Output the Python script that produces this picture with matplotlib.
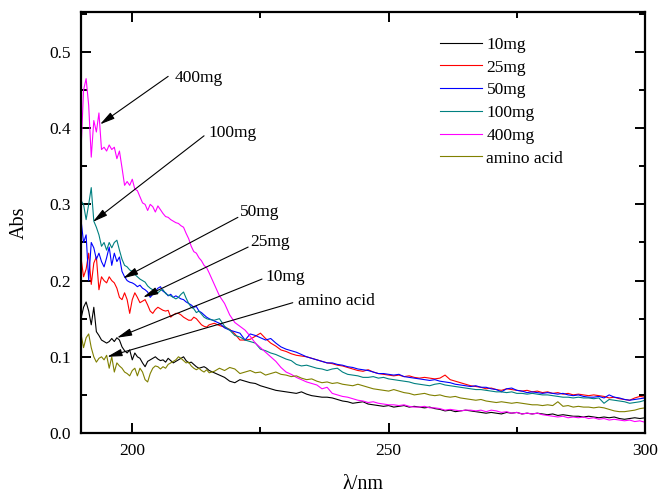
import numpy as np
import matplotlib
matplotlib.use('Agg')
import matplotlib.pyplot as plt
from matplotlib.ticker import MultipleLocator

plt.rcParams['font.family'] = ['Liberation Serif', 'DejaVu Serif']

# wavelength grid: 0.5 nm steps up to 215 nm, 1 nm steps after
wl = np.concatenate([np.arange(190, 215, 0.5), np.arange(215, 301, 1.0)])

abs_10mg = [
    0.150, 0.165, 0.172, 0.160, 0.142, 0.165, 0.133, 0.128, 0.122, 0.120,
    0.118, 0.120, 0.124, 0.120, 0.125, 0.122, 0.113, 0.108, 0.105, 0.109,
    0.096, 0.105, 0.100, 0.098, 0.092, 0.087, 0.094, 0.096, 0.098, 0.100,
    0.097, 0.095, 0.096, 0.093, 0.098, 0.095, 0.092, 0.094, 0.096, 0.098,
    0.100, 0.095, 0.092, 0.093, 0.090, 0.087, 0.085, 0.086, 0.087, 0.085,
    0.082, 0.079, 0.076, 0.073, 0.068, 0.066, 0.070, 0.068, 0.066, 0.065,
    0.062, 0.060, 0.058, 0.056, 0.055, 0.054, 0.053, 0.052, 0.054, 0.051,
    0.049, 0.048, 0.047, 0.047, 0.046, 0.044, 0.042, 0.041, 0.039, 0.040,
    0.041, 0.038, 0.037, 0.036, 0.035, 0.036, 0.034, 0.035, 0.036, 0.034,
    0.035, 0.034, 0.033, 0.034, 0.032, 0.031, 0.029, 0.030, 0.028, 0.029,
    0.030, 0.029, 0.028, 0.027, 0.026, 0.027, 0.026, 0.025, 0.027, 0.026,
    0.027, 0.025, 0.026, 0.025, 0.026, 0.025, 0.024, 0.025, 0.023, 0.024,
    0.023, 0.022, 0.022, 0.021, 0.022, 0.021, 0.020, 0.021, 0.020, 0.021,
    0.019, 0.018, 0.019, 0.020, 0.019, 0.020]

abs_25mg = [
    0.230, 0.205, 0.215, 0.236, 0.195, 0.223, 0.231, 0.188, 0.205, 0.200,
    0.197, 0.205, 0.200, 0.197, 0.190, 0.178, 0.175, 0.184, 0.175, 0.157,
    0.175, 0.184, 0.178, 0.171, 0.173, 0.175, 0.168, 0.160, 0.157, 0.162,
    0.165, 0.163, 0.161, 0.160, 0.161, 0.152, 0.155, 0.157, 0.157, 0.155,
    0.152, 0.150, 0.148, 0.148, 0.152, 0.150, 0.146, 0.142, 0.140, 0.139,
    0.142, 0.144, 0.141, 0.139, 0.136, 0.130, 0.122, 0.122, 0.123, 0.127,
    0.131, 0.124, 0.118, 0.114, 0.109, 0.107, 0.104, 0.102, 0.101, 0.100,
    0.098, 0.096, 0.094, 0.092, 0.091, 0.089, 0.088, 0.086, 0.084, 0.082,
    0.081, 0.083, 0.080, 0.078, 0.077, 0.076, 0.075, 0.076, 0.074, 0.075,
    0.073, 0.072, 0.073, 0.072, 0.071, 0.072, 0.076, 0.070, 0.068, 0.066,
    0.064, 0.062, 0.061, 0.060, 0.058, 0.059, 0.057, 0.056, 0.058, 0.057,
    0.056, 0.055, 0.056, 0.054, 0.055, 0.053, 0.054, 0.052, 0.053, 0.051,
    0.052, 0.050, 0.051, 0.050, 0.049, 0.050, 0.049, 0.048, 0.046, 0.047,
    0.045, 0.044, 0.043, 0.046, 0.048, 0.047]

abs_50mg = [
    0.280, 0.250, 0.260, 0.200, 0.250, 0.243, 0.228, 0.236, 0.225, 0.218,
    0.230, 0.244, 0.220, 0.236, 0.225, 0.231, 0.212, 0.205, 0.200, 0.198,
    0.197, 0.195, 0.192, 0.194, 0.190, 0.188, 0.185, 0.178, 0.182, 0.186,
    0.190, 0.192, 0.186, 0.184, 0.180, 0.182, 0.178, 0.180, 0.178, 0.176,
    0.175, 0.172, 0.170, 0.168, 0.165, 0.166, 0.160, 0.158, 0.155, 0.152,
    0.150, 0.147, 0.144, 0.138, 0.135, 0.133, 0.131, 0.122, 0.130, 0.128,
    0.125, 0.122, 0.124, 0.118, 0.113, 0.110, 0.108, 0.106, 0.103, 0.100,
    0.098, 0.096, 0.094, 0.092, 0.092, 0.090, 0.089, 0.087, 0.086, 0.084,
    0.083, 0.082, 0.080, 0.078, 0.078, 0.077, 0.076, 0.077, 0.074, 0.073,
    0.072, 0.071, 0.070, 0.069, 0.070, 0.068, 0.067, 0.066, 0.064, 0.063,
    0.062, 0.061, 0.062, 0.060, 0.060, 0.058, 0.057, 0.054, 0.058, 0.059,
    0.056, 0.055, 0.053, 0.054, 0.053, 0.052, 0.053, 0.052, 0.051, 0.052,
    0.050, 0.049, 0.050, 0.048, 0.047, 0.047, 0.048, 0.046, 0.050, 0.047,
    0.046, 0.044, 0.043, 0.044, 0.045, 0.046]

abs_100mg = [
    0.305, 0.300, 0.280, 0.300, 0.322, 0.278, 0.270, 0.260, 0.245, 0.250,
    0.240, 0.250, 0.243, 0.250, 0.253, 0.240, 0.228, 0.220, 0.218, 0.214,
    0.212, 0.208, 0.205, 0.202, 0.200, 0.198, 0.193, 0.190, 0.188, 0.186,
    0.184, 0.187, 0.188, 0.183, 0.181, 0.180, 0.178, 0.176, 0.178, 0.182,
    0.185, 0.177, 0.170, 0.165, 0.163, 0.158, 0.160, 0.156, 0.152, 0.150,
    0.149, 0.148, 0.150, 0.140, 0.135, 0.128, 0.126, 0.122, 0.120, 0.118,
    0.110, 0.108, 0.105, 0.103, 0.100, 0.097, 0.095, 0.090, 0.088, 0.089,
    0.087, 0.085, 0.084, 0.082, 0.084, 0.085, 0.080, 0.077, 0.076, 0.075,
    0.073, 0.073, 0.074, 0.072, 0.073, 0.071, 0.070, 0.069, 0.068, 0.067,
    0.065, 0.064, 0.063, 0.062, 0.064, 0.065, 0.063, 0.062, 0.061, 0.060,
    0.059, 0.058, 0.057, 0.057, 0.056, 0.055, 0.054, 0.054, 0.053, 0.054,
    0.052, 0.052, 0.051, 0.052, 0.051, 0.050, 0.050, 0.049, 0.048, 0.047,
    0.047, 0.046, 0.047, 0.046, 0.046, 0.045, 0.046, 0.039, 0.044, 0.043,
    0.042, 0.041, 0.039, 0.040, 0.041, 0.043]

abs_400mg = [
    0.370, 0.450, 0.465, 0.430, 0.362, 0.410, 0.395, 0.420, 0.372, 0.375,
    0.370, 0.378, 0.372, 0.375, 0.360, 0.370, 0.348, 0.325, 0.330, 0.325,
    0.333, 0.320, 0.318, 0.310, 0.302, 0.300, 0.292, 0.300, 0.297, 0.290,
    0.298, 0.293, 0.288, 0.284, 0.283, 0.280, 0.278, 0.276, 0.275, 0.272,
    0.270, 0.262, 0.255, 0.245, 0.238, 0.236, 0.230, 0.226, 0.220, 0.217,
    0.210, 0.195, 0.180, 0.170, 0.155, 0.145, 0.140, 0.135, 0.127, 0.118,
    0.112, 0.106, 0.100, 0.094, 0.086, 0.080, 0.077, 0.073, 0.070, 0.067,
    0.065, 0.063, 0.058, 0.060, 0.052, 0.050, 0.048, 0.047, 0.045, 0.043,
    0.042, 0.040, 0.041, 0.039, 0.038, 0.037, 0.037, 0.036, 0.037, 0.035,
    0.034, 0.034, 0.035, 0.033, 0.033, 0.032, 0.030, 0.031, 0.030, 0.029,
    0.030, 0.030, 0.029, 0.030, 0.028, 0.030, 0.029, 0.027, 0.028, 0.026,
    0.027, 0.025, 0.026, 0.025, 0.026, 0.024, 0.023, 0.022, 0.021, 0.022,
    0.020, 0.021, 0.020, 0.021, 0.019, 0.020, 0.018, 0.019, 0.017, 0.018,
    0.017, 0.016, 0.017, 0.015, 0.016, 0.014]

abs_amino = [
    0.130, 0.112, 0.125, 0.130, 0.112, 0.100, 0.093, 0.098, 0.100, 0.096,
    0.102, 0.085, 0.100, 0.080, 0.092, 0.088, 0.085, 0.080, 0.078, 0.075,
    0.082, 0.085, 0.075, 0.085, 0.080, 0.070, 0.067, 0.078, 0.085, 0.088,
    0.087, 0.084, 0.087, 0.085, 0.090, 0.092, 0.094, 0.096, 0.100, 0.098,
    0.095, 0.092, 0.093, 0.088, 0.085, 0.083, 0.085, 0.082, 0.080, 0.083,
    0.079, 0.081, 0.085, 0.082, 0.086, 0.084, 0.078, 0.080, 0.082, 0.079,
    0.080, 0.076, 0.078, 0.080, 0.077, 0.076, 0.074, 0.075, 0.072, 0.070,
    0.071, 0.068, 0.066, 0.067, 0.065, 0.066, 0.064, 0.063, 0.062, 0.064,
    0.062, 0.060, 0.058, 0.057, 0.056, 0.055, 0.057, 0.055, 0.053, 0.052,
    0.050, 0.051, 0.052, 0.050, 0.049, 0.050, 0.048, 0.047, 0.048, 0.046,
    0.045, 0.044, 0.043, 0.044, 0.042, 0.041, 0.040, 0.041, 0.040, 0.039,
    0.040, 0.039, 0.038, 0.037, 0.037, 0.036, 0.037, 0.036, 0.041, 0.035,
    0.036, 0.034, 0.035, 0.034, 0.034, 0.033, 0.034, 0.033, 0.031, 0.029,
    0.028, 0.028, 0.029, 0.030, 0.032, 0.033]

labels = ['10mg', '25mg', '50mg', '100mg', '400mg', 'amino acid']
colors = ['black', '#ff0000', '#0000ff', '#008080', '#ff00ff', '#808000']
series = [abs_10mg, abs_25mg, abs_50mg, abs_100mg, abs_400mg, abs_amino]

# callouts: label, text anchor, line start, arrow tip (wavelength, abs)
callout_text = ['400mg', '100mg', '50mg', '25mg', '10mg', 'amino acid']
callout_text_xy = [(208.3, 0.466), (214.8, 0.394), (221.0, 0.290),
                   (223.0, 0.251), (225.9, 0.205), (232.3, 0.173)]
callout_start = [(207.0, 0.468), (214.0, 0.390), (220.6, 0.283),
                 (222.6, 0.244), (225.3, 0.202), (231.3, 0.171)]
callout_tip = [(193.7, 0.405), (192.3, 0.277), (198.2, 0.203),
               (202.1, 0.178), (197.0, 0.125), (195.1, 0.100)]

fig = plt.figure(figsize=(6.59, 4.93), dpi=100)
ax = fig.add_axes([0.1229, 0.1217, 0.8559, 0.854])

for vals, lab, col in zip(series, labels, colors):
    ax.plot(wl, vals, color=col, lw=0.8, label=lab)

for txt, txy, start, tip in zip(callout_text, callout_text_xy, callout_start, callout_tip):
    ax.annotate('', xy=tip, xytext=start,
                arrowprops=dict(arrowstyle='-|>,head_length=0.9,head_width=0.22',
                                color='black', lw=0.8, shrinkA=0, shrinkB=0))
    ax.text(txy[0], txy[1], txt, fontsize=12.5, ha='left', va='center')

ax.set_xlim(190, 300)
ax.set_ylim(0, 0.5525)
ax.xaxis.set_major_locator(MultipleLocator(50))
ax.xaxis.set_minor_locator(MultipleLocator(25))
ax.yaxis.set_major_locator(MultipleLocator(0.1))
ax.yaxis.set_minor_locator(MultipleLocator(0.05))
ax.tick_params(which='both', direction='in', top=True, right=True, width=1.4,
               labelsize=12.5)
ax.tick_params(which='major', length=7)
ax.tick_params(which='minor', length=4.5)
ax.tick_params(axis='x', pad=7)
ax.tick_params(axis='y', pad=7)
for sp in ax.spines.values():
    sp.set_linewidth(1.6)

ax.set_xlabel('λ/nm', fontsize=14.5, labelpad=12)
ax.set_ylabel('Abs', fontsize=14.5, labelpad=15)

ax.legend(loc='upper left', bbox_to_anchor=(0.625, 0.958), frameon=False,
          fontsize=12.5, handlelength=2.4, handletextpad=0.25, labelspacing=0.38,
          borderaxespad=0)

fig.savefig('out.png', dpi=100)
